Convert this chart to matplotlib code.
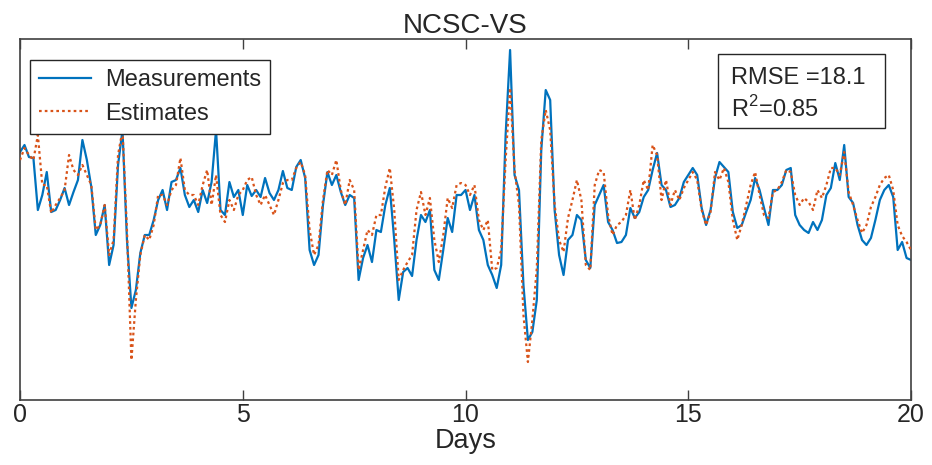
import numpy as np
import matplotlib
matplotlib.use("Agg")
import matplotlib.pyplot as plt
from matplotlib.patches import Rectangle

plt.rcParams['font.family'] = ['Liberation Sans', 'DejaVu Sans']
plt.rcParams['mathtext.fontset'] = 'custom'
plt.rcParams['mathtext.rm'] = 'Liberation Sans'

# ---------------------------  DATA  -------------------------------------- #
# one sample every 0.1 day (arbitrary units)
days = np.linspace(0, 20, 201)

measurements = [
    248, 255, 243, 242, 190, 205, 228, 188, 190, 200,
    212, 195, 208, 220, 260, 240, 213, 165, 175, 195,
    135, 155, 235, 270, 160, 92, 110, 147, 165, 165,
    180, 200, 210, 190, 218, 220, 232, 205, 193, 200,
    188, 210, 197, 218, 270, 190, 185, 218, 203, 210,
    185, 215, 204, 210, 203, 222, 207, 200, 210, 229,
    212, 210, 233, 240, 222, 150, 135, 145, 195, 228,
    215, 225, 208, 195, 205, 202, 120, 142, 155, 138,
    170, 168, 195, 212, 160, 100, 128, 132, 124, 160,
    185, 178, 190, 130, 120, 150, 182, 168, 205, 205,
    210, 190, 205, 170, 160, 135, 125, 112, 135, 265,
    350, 225, 210, 115, 60, 68, 100, 250, 310, 300,
    190, 145, 125, 160, 165, 185, 180, 140, 132, 195,
    205, 215, 178, 170, 157, 158, 165, 192, 182, 188,
    203, 210, 230, 247, 215, 210, 193, 195, 202, 218,
    225, 232, 225, 192, 175, 190, 222, 238, 233, 228,
    188, 172, 175, 188, 200, 222, 210, 192, 175, 210,
    210, 215, 230, 232, 185, 175, 170, 167, 178, 170,
    180, 205, 212, 237, 220, 255, 203, 197, 175, 160,
    155, 162, 180, 200, 210, 215, 203, 150, 158, 142,
    140,
]

estimates = [
    240, 252, 245, 240, 265, 215, 215, 187, 195, 202,
    210, 245, 230, 225, 235, 225, 215, 170, 175, 195,
    145, 160, 245, 270, 170, 40, 100, 145, 165, 160,
    175, 205, 205, 195, 210, 215, 242, 210, 205, 205,
    195, 215, 230, 195, 225, 185, 178, 200, 190, 205,
    210, 220, 223, 205, 195, 205, 195, 185, 200, 217,
    220, 220, 232, 238, 225, 170, 145, 155, 200, 230,
    225, 240, 210, 195, 220, 210, 130, 150, 170, 165,
    185, 185, 213, 232, 190, 120, 130, 138, 145, 190,
    208, 185, 202, 160, 138, 165, 202, 192, 215, 217,
    215, 205, 215, 180, 170, 180, 130, 132, 150, 240,
    312, 230, 195, 85, 38, 80, 132, 260, 290, 270,
    195, 160, 148, 182, 200, 220, 200, 135, 130, 215,
    230, 228, 185, 165, 175, 178, 185, 210, 180, 195,
    220, 210, 255, 245, 200, 220, 195, 210, 200, 212,
    220, 228, 220, 190, 175, 188, 228, 220, 232, 218,
    180, 160, 175, 195, 215, 228, 205, 185, 182, 208,
    210, 218, 230, 228, 205, 195, 202, 198, 190, 210,
    202, 215, 232, 232, 225, 248, 208, 195, 180, 167,
    175, 193, 203, 215, 222, 225, 210, 175, 164, 158,
    150,
]

x_ticks = [0, 5, 10, 15, 20]
stats_lines = ['RMSE =18.1', r'R$^{\mathrm{2}}$=0.85']

# ---------------------------  PLOT  -------------------------------------- #
txt = '#262626'
fig = plt.figure(figsize=(9.32, 4.65), dpi=100)
ax = fig.add_axes([0.0215, 0.1398, 0.956, 0.7763])

ax.plot(days, measurements, color='#0072BD', lw=1.6, label='Measurements', zorder=2)
ax.plot(days, estimates, color='#D95319', lw=1.6, ls=(0, (1.2, 1.4)),
        label='Estimates', zorder=3)

ax.set_xlim(0, 20)
ax.set_ylim(0, 361)
ax.set_xticks(x_ticks)
ax.set_yticks([])
ax.tick_params(axis='x', direction='in', top=True, length=7, width=1,
               color='#404040', labelsize=18, labelcolor=txt, pad=2)
for s in ax.spines.values():
    s.set_color('#404040')
    s.set_linewidth(1.2)

ax.set_title('NCSC-VS', fontsize=20, color=txt, pad=4)
ax.set_xlabel('Days', fontsize=19.5, color=txt, labelpad=1)

leg = ax.legend(loc='upper left', bbox_to_anchor=(0.011, 0.942), borderaxespad=0,
                fontsize=17, fancybox=False, framealpha=1, edgecolor='#262626',
                handlelength=2.2, handletextpad=0.6, labelspacing=0.5,
                borderpad=0.38)
leg.get_frame().set_linewidth(1.0)
for t in leg.get_texts():
    t.set_color(txt)

# stats box
ax.add_patch(Rectangle((0.7834, 0.7535), 0.1874, 0.205, transform=ax.transAxes,
                       facecolor='white', edgecolor='#262626', lw=1.0, zorder=5))
ax.text(0.7985, 0.893, stats_lines[0], transform=ax.transAxes, fontsize=17,
        color=txt, va='center', ha='left', zorder=6)
ax.text(0.7985, 0.805, stats_lines[1], transform=ax.transAxes, fontsize=17,
        color=txt, va='center', ha='left', zorder=6)

fig.savefig('out.png', dpi=100)
